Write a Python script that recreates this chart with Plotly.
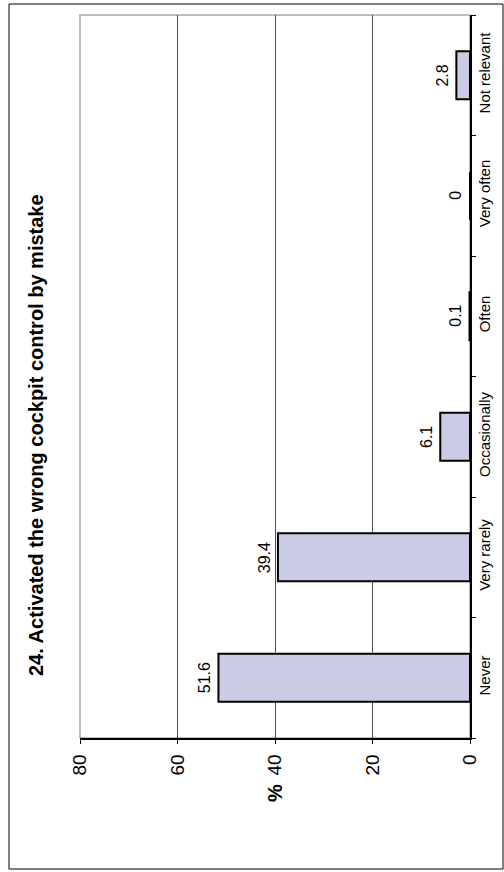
import plotly.graph_objects as go

categories = ["Never", "Very rarely", "Occasionally", "Often", "Very often", "Not relevant"]
values = [51.6, 39.4, 6.1, 0.1, 0, 2.8]
value_labels = ["51.6", "39.4", "6.1", "0.1", "0", "2.8"]
x_ticks = [0, 20, 40, 60, 80]
title_text = "24. Activated the wrong cockpit control by mistake"
axis_title = "%"

FONT = "Liberation Sans, Arial, sans-serif"

fig = go.Figure()
fig.add_trace(go.Bar(
    x=values, y=categories, orientation="h",
    width=0.4,
    marker=dict(color="#CACBE5", line=dict(color="#000000", width=2)),
    hoverinfo="skip",
))

annotations = []
for c, v, t in zip(categories, values, value_labels):
    annotations.append(dict(
        x=v, y=c, xref="x", yref="y", text=t, showarrow=False,
        textangle=-90, xanchor="center", yanchor="middle", xshift=-14,
        font=dict(family=FONT, size=16, color="#000"),
    ))

# title
annotations.append(dict(
    x=(36 - 80) / 390, y=(738 - 435) / 723, xref="paper", yref="paper",
    text="<b>" + title_text + "</b>", showarrow=False, textangle=-90,
    xanchor="center", yanchor="middle",
    font=dict(family=FONT, size=20, color="#000"),
))
# axis title
annotations.append(dict(
    x=40, y=(738 - 793) / 723, xref="x", yref="paper",
    text="<b>" + axis_title + "</b>", showarrow=False, textangle=-90,
    xanchor="center", yanchor="middle",
    font=dict(family=FONT, size=20, color="#000"),
))

shapes = [
    # outer border
    dict(type="rect", xref="paper", yref="paper",
         x0=(9 - 80) / 390, x1=(503 - 80) / 390,
         y0=(738 - 869) / 723, y1=(738 - 4) / 723,
         line=dict(color="#000", width=1), layer="below"),
    # plot area border (gray)
    dict(type="rect", xref="paper", yref="paper", x0=0, x1=1, y0=0, y1=1,
         line=dict(color="#A8A8A8", width=1.5), layer="below"),
]

fig.update_layout(
    width=504, height=872,
    margin=dict(l=80, r=34, t=15, b=134),
    paper_bgcolor="white", plot_bgcolor="white",
    showlegend=False,
    font=dict(family=FONT, color="#000"),
    annotations=annotations,
    shapes=shapes,
    bargap=0.6,
)
fig.update_xaxes(
    range=[80, 0], tickvals=x_ticks, ticktext=[str(t) for t in x_ticks],
    tickangle=-90, tickfont=dict(family=FONT, size=19),
    showgrid=True, gridcolor="#505050", gridwidth=1,
    zeroline=False,
    showline=True, linecolor="#000", linewidth=1.5,
    ticks="outside", ticklen=4, tickcolor="#000", ticklabelstandoff=3,
)
fig.update_yaxes(
    categoryorder="array", categoryarray=categories,
    side="right", tickangle=-90, tickfont=dict(family=FONT, size=15),
    showgrid=False, zeroline=False,
    showline=True, linecolor="#000", linewidth=1.5,
    ticks="outside", ticklen=4, tickcolor="#000", tickson="boundaries",
)

fig.write_html("out.html", config={"displayModeBar": False},
               post_script="document.body.style.margin='0';")
